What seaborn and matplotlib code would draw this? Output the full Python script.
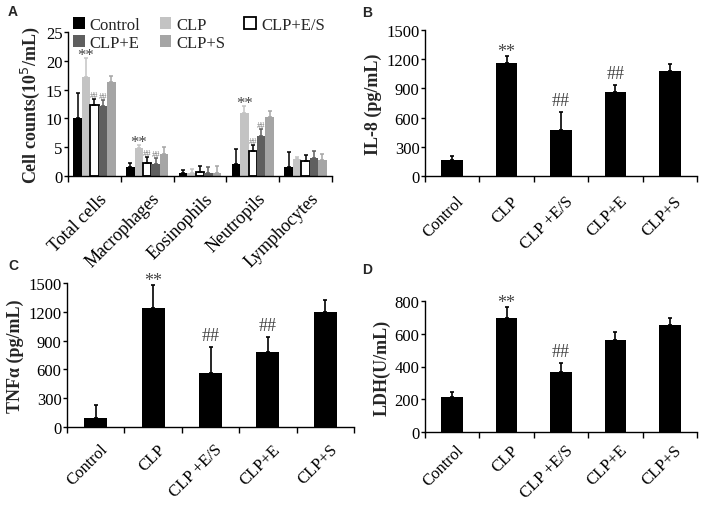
import numpy as np
import pandas as pd
import matplotlib
matplotlib.use("Agg")
import matplotlib.pyplot as plt
import matplotlib.transforms as mtransforms
import seaborn as sns

# Data
cell_types = ["Total cells", "Macrophages", "Eosinophils", "Neutropils", "Lymphocytes"]
groups_a = ["Control", "CLP", "CLP+E/S", "CLP+E", "CLP+S"]
counts_control = [10.1, 1.6, 0.6, 2.1, 1.6]
counts_clp = [17.2, 4.9, 0.6, 10.9, 2.9]
counts_es = [12.4, 2.2, 0.7, 4.3, 2.6]
counts_e = [12.1, 2.1, 0.5, 6.9, 3.1]
counts_s = [16.3, 3.8, 0.6, 10.2, 2.8]
err_control = [4.3, 0.6, 0.4, 2.6, 2.5]
err_clp = [3.2, 0.5, 0.6, 1.2, 0.4]
err_es = [1.0, 1.1, 1.0, 1.0, 1.0]
err_e = [1.1, 1.1, 1.1, 1.2, 1.2]
err_s = [1.1, 1.2, 1.1, 1.0, 1.0]
marks_a = {"CLP": ["**", "**", "", "**", ""],
           "CLP+E/S": ["##", "##", "", "##", ""],
           "CLP+E": ["##", "##", "", "##", ""]}

groups = ["Control", "CLP", "CLP +E/S", "CLP+E", "CLP+S"]
il8 = [165, 1164, 474, 865, 1074]
il8_err = [42, 65, 188, 70, 79]
il8_marks = ["", "**", "##", "##", ""]
tnf = [90, 1235, 562, 780, 1200]
tnf_err = [140, 245, 267, 160, 118]
tnf_marks = ["", "**", "##", "##", ""]
ldh = [211, 696, 365, 560, 652]
ldh_err = [35, 69, 57, 49, 46]
ldh_marks = ["", "**", "##", "", ""]

colors_a = {"Control": "#000000", "CLP": "#c3c3c3", "CLP+E/S": "#ffffff",
            "CLP+E": "#5f5f5f", "CLP+S": "#a5a5a5"}
errcol_a = {"Control": "#000000", "CLP": "#c3c3c3", "CLP+E/S": "#000000",
            "CLP+E": "#5f5f5f", "CLP+S": "#a5a5a5"}

sns.set_theme(style="ticks")
plt.rcParams["font.family"] = ["Liberation Serif", "DejaVu Serif"]
plt.rcParams["axes.linewidth"] = 1.0
plt.rcParams["xtick.color"] = "black"
plt.rcParams["ytick.color"] = "black"

fig = plt.figure(figsize=(7.02, 5.06), dpi=100)
W, H = 702, 506


def add_ax(left, right, y0, ytop):
    return fig.add_axes([left / W, (H - y0) / H, (right - left) / W, (y0 - ytop) / H])


def style_axis(ax, ymax, step, ylabel, xsize=12, xpad=12):
    ax.set_xlim(-0.5, 4.5)
    ax.set_ylim(0, ymax)
    ax.set_yticks(np.arange(0, ymax + 1e-9, step))
    ax.set_xticks(np.arange(-0.5, 5, 1), minor=True)
    ax.tick_params(axis="x", which="major", length=0, labelsize=xsize, pad=xpad)
    ax.tick_params(axis="x", which="minor", length=4, width=1, direction="out")
    ax.tick_params(axis="y", length=3, width=1, direction="out", labelsize=12, pad=1)
    shift = mtransforms.ScaledTranslation(4 / 100, 0, fig.dpi_scale_trans)
    for lab in ax.get_xticklabels():
        lab.set_rotation(45)
        lab.set_ha("right")
        lab.set_rotation_mode("anchor")
        lab.set_transform(lab.get_transform() + shift)
    ax.set_xlabel("")
    ax.set_ylabel(ylabel, fontsize=13, fontweight="bold", labelpad=3)
    sns.despine(ax=ax)
    ax.spines["left"].set_color("black")
    ax.spines["bottom"].set_color("black")


def put_mark(ax, x, top, mark, size, color, lift):
    ax.annotate(mark, (x, top), xytext=(0, lift), textcoords="offset pixels",
                ha="center", va="baseline", fontsize=size, color=color)


def simple_panel(ax, vals, errs, marks, ymax, step, ylabel, xpad=12):
    df = pd.DataFrame({"group": groups, "value": vals})
    sns.barplot(data=df, x="group", y="value", color="black", width=0.4,
                errorbar=None, saturation=1, linewidth=0, ax=ax)
    bars = ax.containers[0]
    xs = [b.get_x() + b.get_width() / 2 for b in bars]
    ax.errorbar(xs, vals, yerr=[np.zeros(len(vals)), errs], fmt="none",
                ecolor="black", elinewidth=1.2, capsize=1.5, capthick=1.2)
    for x, v, e, m in zip(xs, vals, errs, marks):
        if m == "**":
            put_mark(ax, x, v + e, m, 13, "#444444", 0)
        elif m:
            put_mark(ax, x, v + e, m, 13, "#444444", 7)
    style_axis(ax, ymax, step, ylabel, xpad=xpad)


# Panel A
rows = []
vals_a = {"Control": counts_control, "CLP": counts_clp, "CLP+E/S": counts_es,
          "CLP+E": counts_e, "CLP+S": counts_s}
errs_a = {"Control": err_control, "CLP": err_clp, "CLP+E/S": err_es,
          "CLP+E": err_e, "CLP+S": err_s}
for g in groups_a:
    for c, v in zip(cell_types, vals_a[g]):
        rows.append({"cell": c, "group": g, "value": v})
df_a = pd.DataFrame(rows)

axA = add_ax(68, 332, 177, 33)
sns.barplot(data=df_a, x="cell", y="value", hue="group", hue_order=groups_a,
            palette=colors_a, errorbar=None, saturation=1, width=0.8,
            linewidth=0, legend=False, ax=axA)
for g, cont in zip(groups_a, axA.containers):
    xs = [b.get_x() + b.get_width() / 2 for b in cont]
    if g == "CLP+E/S":
        for b in cont:
            b.set_edgecolor("black")
            b.set_linewidth(1.3)
    axA.errorbar(xs, vals_a[g], yerr=[np.zeros(5), errs_a[g]], fmt="none",
                 ecolor=errcol_a[g], elinewidth=1.1, capsize=1.2, capthick=1.1)
    if g in marks_a:
        for x, v, e, m in zip(xs, vals_a[g], errs_a[g], marks_a[g]):
            if m == "**":
                put_mark(axA, x, v + e, m, 12, "#444444", -1)
            elif m:
                put_mark(axA, x, v + e, m, 6, "#777777", 2)
style_axis(axA, 25, 5, "Cell counts(10$^{5}$/mL)", xsize=13, xpad=10)

handle_map = {g: c.patches[0] for g, c in zip(groups_a, axA.containers)}
leg_order = ["Control", "CLP+E", "CLP", "CLP+S", "CLP+E/S"]
axA.legend([handle_map[g] for g in leg_order], leg_order, ncol=3,
           loc="upper left", bbox_to_anchor=(73 / W, 1 - 18 / H),
           bbox_transform=fig.transFigure, frameon=False, fontsize=12,
           handlelength=0.7, handleheight=0.7, handletextpad=0.3,
           columnspacing=1.15, labelspacing=0.1, borderpad=0, borderaxespad=0)

# Panels B-D
axB = add_ax(425, 697, 177, 31)
simple_panel(axB, il8, il8_err, il8_marks, 1500, 300, "IL-8 (pg/mL)")
axC = add_ax(67, 354, 428, 284)
simple_panel(axC, tnf, tnf_err, tnf_marks, 1500, 300, "TNF\u03b1 (pg/mL)", xpad=10)
axD = add_ax(425, 697, 433, 302)
simple_panel(axD, ldh, ldh_err, ldh_marks, 800, 200, "LDH(U/mL)", xpad=7)

for letter, (px, py) in {"A": (8, 5), "B": (362, 6), "C": (8, 259), "D": (362, 263)}.items():
    fig.text(px / W, 1 - py / H, letter, family="Liberation Sans", fontweight="bold",
             fontsize=10, ha="left", va="top")

fig.savefig("out.png", dpi=100)
